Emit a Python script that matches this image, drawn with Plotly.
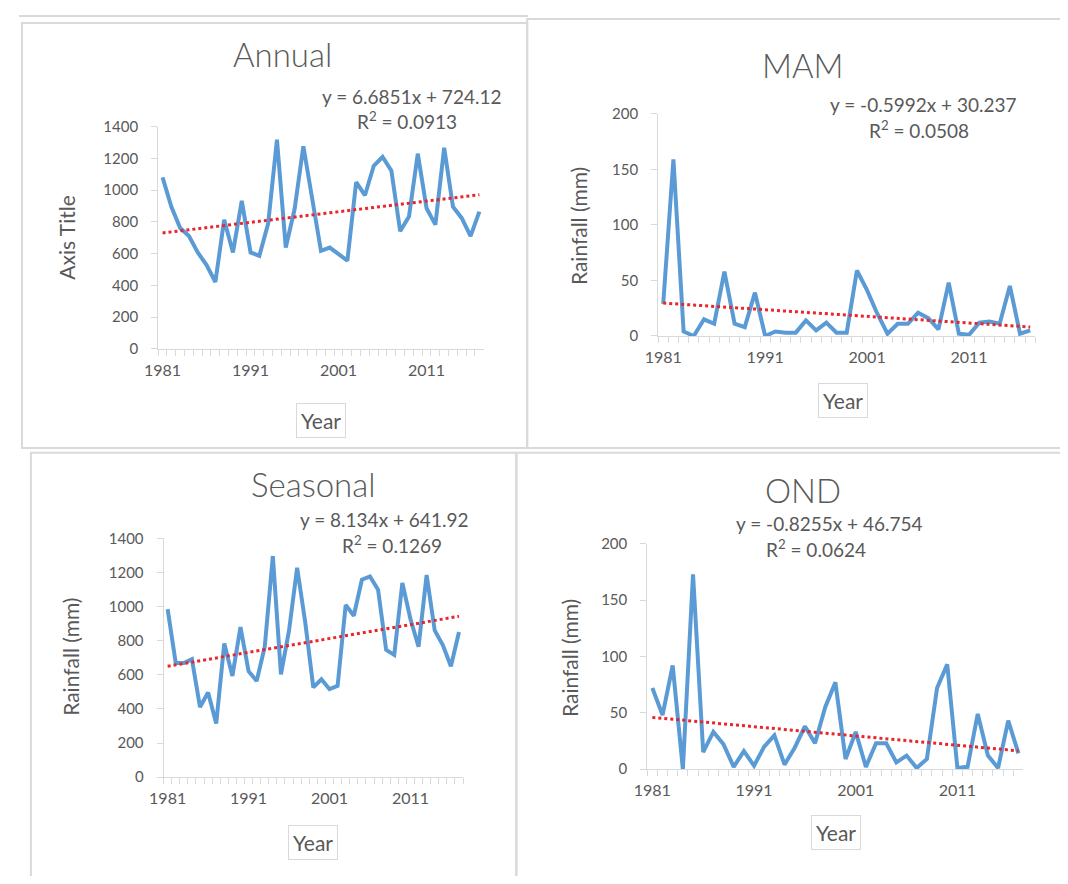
import plotly.graph_objects as go

# ---------------- data ----------------
years = list(range(1981, 2018))
year_labels = [str(y) if (y - 1981) % 10 == 0 else "" for y in years]

annual = [1081, 896, 762, 711, 608, 529, 422, 814, 608, 933, 608, 587, 790, 1318,
          639, 880, 1277, 950, 618, 639, 597, 556, 1051, 968, 1154, 1209, 1123, 742,
          834, 1230, 886, 783, 1267, 896, 824, 711, 865]
mam = [29, 159, 4, 0, 15, 11, 58, 11, 8, 39, 0, 4, 3, 3, 14, 5, 12, 3, 3, 59,
       41, 20, 2, 11, 11, 21, 16, 6, 48, 2, 1, 12, 13, 11, 45, 2, 5]
seasonal = [985, 669, 669, 692, 411, 497, 315, 784, 593, 880, 621, 564, 765, 1296,
            602, 860, 1227, 908, 526, 574, 516, 535, 1010, 946, 1157, 1176, 1099, 746,
            717, 1138, 927, 765, 1185, 860, 774, 650, 851]
ond = [72, 48, 92, 0, 173, 15, 33, 22, 2, 16, 3, 20, 30, 4, 19, 38, 23, 55, 77, 9,
       33, 2, 23, 23, 6, 12, 1, 9, 72, 93, 1, 2, 49, 12, 1, 43, 14]

panel_titles = ["Annual", "MAM", "Seasonal", "OND"]
y_titles = ["Axis Title", "Rainfall (mm)", "Rainfall (mm)", "Rainfall (mm)"]
trend_slopes = [6.6851, -0.5992, 8.134, -0.8255]
trend_intercepts = [724.12, 30.237, 641.92, 46.754]
r_squared = ["0.0913", "0.0508", "0.1269", "0.0624"]
y_max = [1400, 200, 1400, 200]
y_step = [200, 50, 200, 50]
series = [annual, mam, seasonal, ond]

# ---------------- layout helpers ----------------
# the page body has an 8px margin, so the figure is drawn 8px in from the corner
OFF = 8
W, H = 1068 - 2 * OFF, 884 - 2 * OFF
def px(x):
    return (x - OFF) / W
def py(y):
    return 1 - (y - OFF) / H

# plot-area pixel boxes in page coordinates (left, right, top, bottom)
boxes = [(146, 476, 119, 346), (652.7, 1035, 106, 332.7),
         (151.5, 455, 539.3, 783.3), (641.7, 1023, 545, 775)]
title_pos = [(272, 45), (800, 56), (303, 484), (800, 490)]
eq_pos = [(403, 88), (922, 96), (375, 520), (826, 524)]
r2_pos = [(398, 113), (917, 122), (383, 546), (813, 550)]
ytitle_pos = [(53, 232), (572, 220), (57, 660), (563, 662)]
year_pos = [(311, 419), (840, 399), (303, 850), (833, 840)]

TXT = "#595959"
AX = "#D9D9D9"
LINE = "#5B9BD5"
FONT = "Lato"

fig = go.Figure()
annotations = []
xcat = [str(y) for y in years]
idx = list(range(1, len(years) + 1))

def note(text, x, y, size, **kw):
    d = dict(text=text, x=px(x), y=py(y), xref="paper", yref="paper", showarrow=False,
             xanchor="center", yanchor="middle", borderpad=0,
             font=dict(family=FONT, size=size, color=TXT, weight=kw.pop("weight", 400)))
    d.update(kw)
    return d

for i in range(4):
    n = i + 1
    xa = "x" if n == 1 else f"x{n}"
    ya = "y" if n == 1 else f"y{n}"
    trend = [trend_slopes[i] * k + trend_intercepts[i] for k in idx]
    fig.add_trace(go.Scatter(x=xcat, y=series[i], mode="lines", xaxis=xa, yaxis=ya,
                             line=dict(color=LINE, width=4), showlegend=False,
                             hoverinfo="x+y"))
    fig.add_trace(go.Scatter(x=xcat, y=trend, mode="lines", xaxis=xa, yaxis=ya,
                             line=dict(color="#E8262B", width=3, dash="dot"),
                             showlegend=False, hoverinfo="skip"))
    l, r, t, b = boxes[i]
    fig.layout[f"xaxis{'' if n == 1 else n}"] = dict(
        domain=[px(l), px(r)], anchor=ya, type="category",
        range=[-0.5, len(years) - 0.5],
        tickmode="array", tickvals=xcat, ticktext=year_labels, tickangle=0,
        tickson="boundaries", ticks="outside", ticklen=6, tickcolor=AX,
        ticklabelstandoff=7,
        showline=True, linecolor=AX, linewidth=1, showgrid=False, zeroline=False,
        tickfont=dict(family=FONT, size=16, color=TXT), fixedrange=True)
    fig.layout[f"yaxis{'' if n == 1 else n}"] = dict(
        domain=[py(b), py(t)], anchor=xa, range=[0, y_max[i]],
        tick0=0, dtick=y_step[i], ticks="outside", ticklen=6, tickcolor=AX,
        showline=True, linecolor=AX, linewidth=1, showgrid=False, zeroline=False,
        ticklabelstandoff=10,
        tickfont=dict(family=FONT, size=15, color=TXT), fixedrange=True)

    annotations.append(note(panel_titles[i], *title_pos[i], 33, weight=300))
    sign = "+" if trend_intercepts[i] >= 0 else "-"
    eq = f"y = {trend_slopes[i]}x {sign} {abs(trend_intercepts[i])}"
    annotations.append(note(eq, *eq_pos[i], 19))
    annotations.append(note(f"R<sup>2</sup> = {r_squared[i]}", *r2_pos[i], 19))
    annotations.append(note(y_titles[i], *ytitle_pos[i], 21, textangle=-90))
    annotations.append(note("Year", *year_pos[i], 21, bordercolor=AX, borderwidth=1,
                            borderpad=4))

# panel frames (page coordinates)
frames = [(8, 13, 520, 447), (520, 9, 1072, 447), (17, 452, 509, 890), (509, 452, 1072, 890)]
shapes = []
for (x0, y0, x1, y1) in frames:
    shapes.append(dict(type="rect", xref="paper", yref="paper",
                       x0=px(x0), x1=px(x1), y0=py(y1), y1=py(y0),
                       line=dict(color=AX, width=2), layer="below"))
shapes.append(dict(type="line", xref="paper", yref="paper", x0=px(5), x1=px(521),
                   y0=py(6), y1=py(6), line=dict(color=AX, width=2)))

fig.update_layout(width=W, height=H, margin=dict(l=0, r=0, t=0, b=0),
                  paper_bgcolor="white", plot_bgcolor="white",
                  annotations=annotations, shapes=shapes, showlegend=False)

fig.write_html("out.html")
